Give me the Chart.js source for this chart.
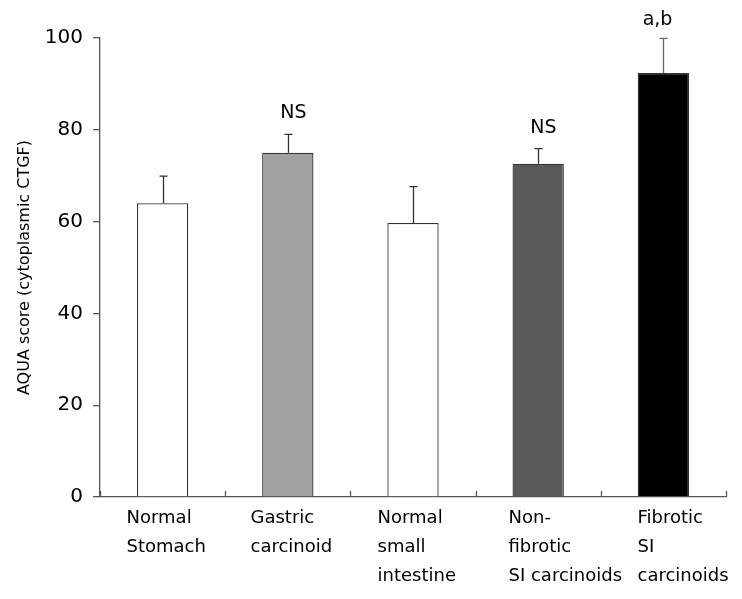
<!DOCTYPE html>
<html>
<head>
<meta charset="utf-8">
<script src="https://cdn.jsdelivr.net/npm/chart.js@4"></script>
<style>
  body { margin: 0; background: #fff; }
  canvas { display: block; }
</style>
</head>
<body>
<canvas id="grafico" width="742" height="599"></canvas>
<script>
// data
const categories = [
    ['Normal', 'Stomach'],
    ['Gastric', 'carcinoid'],
    ['Normal', 'small', 'intestine'],
    ['Non-', 'fibrotic', 'SI carcinoids'],
    ['Fibrotic', 'SI', 'carcinoids']
];
const scores = [64.0, 75.0, 59.7, 72.6, 92.4];
const errors = [5.9, 4.0, 7.9, 3.3, 7.5];
const marks = ['', 'NS', '', 'NS', 'a,b'];
const yTicks = [0, 20, 40, 60, 80, 100];

Chart.defaults.font.family = '"DejaVu Sans", Verdana, sans-serif';
Chart.defaults.color = '#000';

// error bars, significance marks, left-aligned category labels, inward x ticks
const extras = {
    id: 'extras',
    afterDraw(chart) {
        const ctx = chart.ctx;
        const x = chart.scales.x;
        const y = chart.scales.y;
        const area = chart.chartArea;
        const labelShift = [-37, -38, -36, -30, -26];
        const markShift = [0, 5, 0, 5, -6];
        const markGap = [0, 21, 0, 21, 18];

        ctx.save();
        // small ticks pointing up between categories
        ctx.strokeStyle = '#555';
        ctx.lineWidth = 1.3;
        for (let i = 0; i <= categories.length; i++) {
            const px = Math.round(x.getPixelForValue(i - 0.5)) + 0.5;
            ctx.beginPath();
            ctx.moveTo(px, area.bottom);
            ctx.lineTo(px, area.bottom - 6);
            ctx.stroke();
        }

        scores.forEach((v, i) => {
            const cx = Math.round(x.getPixelForValue(i)) + 0.5;
            const top = y.getPixelForValue(v + errors[i]);
            const base = y.getPixelForValue(v);
            ctx.strokeStyle = i === 4 ? '#666' : '#333';
            ctx.lineWidth = 1.3;
            ctx.beginPath();
            ctx.moveTo(cx, base);
            ctx.lineTo(cx, top);
            ctx.moveTo(cx - 4, top);
            ctx.lineTo(cx + 4, top);
            ctx.stroke();

            if (marks[i]) {
                ctx.fillStyle = '#000';
                ctx.font = '19px "DejaVu Sans"';
                ctx.textAlign = 'center';
                ctx.textBaseline = 'middle';
                ctx.fillText(marks[i], cx + markShift[i], top - markGap[i]);
            }

            ctx.fillStyle = '#000';
            ctx.font = '18px "DejaVu Sans"';
            ctx.textAlign = 'left';
            ctx.textBaseline = 'middle';
            categories[i].forEach((line, k) => {
                ctx.fillText(line, cx + labelShift[i], area.bottom + 21 + k * 29);
            });
        });
        ctx.restore();
    }
};

const ctx = document.getElementById('grafico').getContext('2d');
new Chart(ctx, {
    type: 'bar',
    data: {
        labels: categories,
        datasets: [{
            label: 'AQUA score',
            data: scores,
            backgroundColor: ['#ffffff', '#a0a0a0', '#ffffff', '#595959', '#000000'],
            borderColor: '#333',
            borderWidth: 1.3,
            categoryPercentage: 1,
            barPercentage: 0.41
        }]
    },
    options: {
        responsive: false,
        animation: false,
        layout: {
            padding: { left: 0, right: 16, top: 38, bottom: 0 }
        },
        plugins: {
            legend: { display: false },
            tooltip: { enabled: false }
        },
        scales: {
            x: {
                offset: true,
                afterFit: scale => {
                    scale.height = 102;
                },
                grid: { display: false },
                border: { display: true, color: '#555', width: 1.3 },
                ticks: { display: false }
            },
            y: {
                min: 0,
                max: 100,
                afterBuildTicks: scale => {
                    scale.ticks = yTicks.map(v => ({ value: v }));
                },
                afterFit: scale => {
                    scale.width = 100;
                },
                grid: {
                    drawOnChartArea: false,
                    drawTicks: true,
                    tickLength: 7,
                    color: '#555',
                    lineWidth: 1.3
                },
                border: { display: true, color: '#555', width: 1.3 },
                ticks: {
                    font: { size: 20 },
                    padding: 10,
                    color: '#000'
                },
                title: {
                    display: true,
                    text: 'AQUA score (cytoplasmic CTGF)',
                    font: { size: 16 },
                    color: '#000',
                    padding: { top: 15, bottom: 0 }
                }
            }
        }
    },
    plugins: [extras]
});
</script>
</body>
</html>
